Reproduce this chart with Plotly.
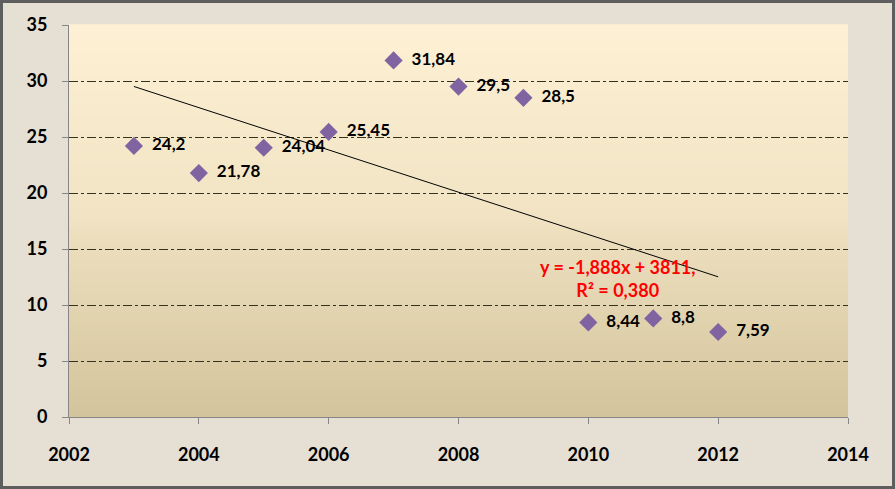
import numpy as np
import plotly.graph_objects as go

years = [2003, 2004, 2005, 2006, 2007, 2008, 2009, 2010, 2011, 2012]
values = [24.2, 21.78, 24.04, 25.45, 31.84, 29.5, 28.5, 8.44, 8.8, 7.59]
labels = ["\u00a0\u00a0" + str(v).replace('.', ',') for v in values]
x_ticks = [2002, 2004, 2006, 2008, 2010, 2012, 2014]
y_ticks = [0, 5, 10, 15, 20, 25, 30, 35]

slope, intercept = np.polyfit(years, values, 1)
r = np.corrcoef(years, values)[0, 1]
r2 = int(r ** 2 * 1000) / 1000
trend_x = [years[0], years[-1]]
trend_y = [slope * x + intercept for x in trend_x]
eq_text = ("y = " + f"{slope:.3f}".replace('.', ',') + "x + " + f"{intercept:.0f}" + ",<br>"
           + "R² = " + f"{r2:.3f}".replace('.', ','))

W, H = 895, 489
ml, mr, mt, mb = 69, 47, 25, 72
pw, ph = W - ml - mr, H - mt - mb

FONT = "Lato, 'Open Sans', sans-serif"

fig = go.Figure()
fig.add_trace(go.Scatter(x=trend_x, y=trend_y, mode="lines",
                         line=dict(color="black", width=1), hoverinfo="skip",
                         showlegend=False))
fig.add_trace(go.Scatter(x=years, y=values, mode="markers+text", text=labels,
                         textposition="middle right",
                         textfont=dict(family=FONT, size=17, color="black", weight="bold"),
                         marker=dict(symbol="diamond", size=14, color="#8064a2",
                                     line=dict(width=0)),
                         showlegend=False))

# plot-area vertical gradient (styling)
shapes = []
n = 60
def lerp(c1, c2, t):
    return tuple(int(round(a + (b - a) * t)) for a, b in zip(c1, c2))
top = (253, 240, 212)
mid = (242, 229, 197)
bot = (211, 195, 156)
for i in range(n):
    f0 = i / n
    f1 = (i + 1) / n
    fc = 1 - (f0 + f1) / 2  # 0 at top, 1 at bottom
    if fc < 0.45:
        c = lerp(top, mid, fc / 0.45)
    else:
        c = lerp(mid, bot, (fc - 0.45) / 0.55)
    shapes.append(dict(type="rect", xref="paper", yref="paper", x0=0, x1=1,
                       y0=f0, y1=f1 + 0.002, layer="below", line=dict(width=0),
                       fillcolor="rgb(%d,%d,%d)" % c))
# outer frame
shapes.append(dict(type="rect", xref="paper", yref="paper",
                   x0=-(ml - 1.5) / pw, x1=1 + (mr - 1.5) / pw,
                   y0=-(mb - 1.5) / ph, y1=1 + (mt - 1.5) / ph,
                   line=dict(color="#5e5e5e", width=3), layer="above"))

fig.update_layout(
    width=W, height=H,
    margin=dict(l=ml, r=mr, t=mt, b=mb),
    paper_bgcolor="#e5dfd4",
    plot_bgcolor="rgba(0,0,0,0)",
    shapes=shapes,
    font=dict(family=FONT),
    annotations=[dict(x=2010.45, y=12.4, xref="x", yref="y", text=eq_text,
                      showarrow=False, align="center",
                      font=dict(family=FONT, size=18, color="#ff0000", weight="bold"))],
    xaxis=dict(range=[2002, 2014], tickvals=x_ticks, showgrid=False, zeroline=False,
               showline=True, linecolor="#868686", linewidth=1,
               ticks="outside", ticklen=6, tickcolor="#868686",
               ticklabelstandoff=15,
               tickfont=dict(family=FONT, size=18, color="black", weight="bold")),
    yaxis=dict(range=[0, 35], tickvals=y_ticks, showgrid=True, gridcolor="#33331f",
               griddash="dashdot", gridwidth=1, zeroline=False,
               showline=True, linecolor="#868686", linewidth=1,
               ticks="outside", ticklen=6, tickcolor="#868686",
               ticklabelstandoff=11,
               tickfont=dict(family=FONT, size=18, color="black", weight="bold")),
)

fig.write_html("out.html", config={"displayModeBar": False},
               post_script="document.body.style.margin='0';document.body.style.padding='0';")
